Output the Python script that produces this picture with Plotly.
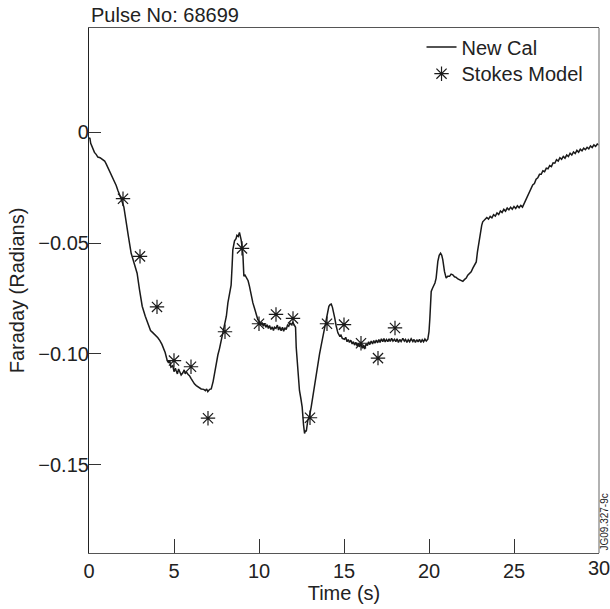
import plotly.graph_objects as go

# Faraday rotation trace, pulse 68699 (new calibration)
time_s = [
    0.00, 0.05, 0.10, 0.20, 0.32, 0.42, 0.52, 0.65, 0.81, 0.92, 1.01, 1.12, 1.21, 1.35, 1.50, 1.60,
    1.70, 1.80, 1.89, 2.05, 2.19, 2.32, 2.48, 2.60, 2.68, 2.83, 2.97, 3.13, 3.31, 3.50, 3.62, 3.75,
    3.90, 4.05, 4.17, 4.29, 4.48, 4.60, 4.68, 4.75, 4.82, 4.93, 5.00, 5.08, 5.13, 5.20, 5.27, 5.35,
    5.42, 5.52, 5.60, 5.66, 5.72, 5.82, 5.91, 6.00, 6.11, 6.20, 6.31, 6.45, 6.60, 6.75, 6.85, 6.92,
    6.99, 7.10, 7.19, 7.30, 7.38, 7.48, 7.58, 7.68, 7.80, 7.97, 8.08, 8.17, 8.27, 8.36, 8.42, 8.46,
    8.56, 8.65, 8.70, 8.78, 8.85, 8.90, 8.95, 9.05, 9.11, 9.18, 9.28, 9.36, 9.44, 9.54, 9.64, 9.74,
    9.83, 9.93, 10.03, 10.10, 10.18, 10.25, 10.32, 10.40, 10.48, 10.55, 10.62, 10.70, 10.78, 10.85,
    10.91, 11.00, 11.08, 11.15, 11.22, 11.30, 11.38, 11.45, 11.52, 11.60, 11.68, 11.75, 11.82, 11.90,
    11.99, 12.08, 12.15, 12.19, 12.30, 12.38, 12.46, 12.54, 12.62, 12.68, 12.73, 12.78, 12.87, 12.97,
    13.07, 13.17, 13.26, 13.40, 13.56, 13.65, 13.75, 13.85, 13.95, 14.03, 14.11, 14.18, 14.25, 14.32,
    14.38, 14.46, 14.54, 14.64, 14.74, 14.82, 14.90, 15.03, 15.10, 15.18, 15.25, 15.32, 15.40, 15.48,
    15.55, 15.62, 15.70, 15.78, 15.85, 15.91, 16.00, 16.08, 16.15, 16.21, 16.30, 16.38, 16.45, 16.52,
    16.60, 16.68, 16.75, 16.82, 16.90, 16.98, 17.05, 17.12, 17.20, 17.28, 17.35, 17.42, 17.50, 17.58,
    17.65, 17.72, 17.80, 17.88, 17.97, 18.05, 18.12, 18.20, 18.28, 18.36, 18.46, 18.55, 18.62, 18.70,
    18.78, 18.86, 18.95, 19.05, 19.12, 19.20, 19.28, 19.36, 19.44, 19.52, 19.60, 19.68, 19.76, 19.84,
    19.93, 20.00, 20.05, 20.13, 20.20, 20.28, 20.35, 20.42, 20.47, 20.52, 20.60, 20.68, 20.75, 20.81,
    20.91, 21.01, 21.10, 21.21, 21.30, 21.40, 21.50, 21.60, 21.70, 21.79, 21.90, 21.99, 22.08, 22.19,
    22.28, 22.38, 22.48, 22.58, 22.68, 22.78, 22.85, 22.91, 22.97, 23.03, 23.10, 23.16, 23.25,
    23.4, 23.5, 23.6, 23.7, 23.8, 23.9, 24.0, 24.1, 24.2, 24.3, 24.4, 24.5, 24.6, 24.7, 24.8, 24.9,
    25.0, 25.1, 25.2, 25.3, 25.4, 25.5, 25.6, 25.7, 25.8, 25.9, 26.0, 26.1, 26.2, 26.3, 26.4, 26.5,
    26.6, 26.7, 26.8, 26.9, 27.0, 27.1, 27.2, 27.3, 27.4, 27.5, 27.6, 27.7, 27.8, 27.9, 28.0, 28.1,
    28.2, 28.3, 28.4, 28.5, 28.6, 28.7, 28.8, 28.9, 29.0, 29.1, 29.2, 29.3, 29.4, 29.5, 29.6, 29.7,
    29.8, 29.9, 30.0,
]
faraday_new_cal = [
    -0.0030, -0.0025, -0.0050, -0.0070, -0.0091, -0.0100, -0.0112, -0.0115, -0.0123, -0.0130, -0.0143,
    -0.0160, -0.0173, -0.0195, -0.0225, -0.0240, -0.0263, -0.0280, -0.0300, -0.0337, -0.0397, -0.0471,
    -0.0546, -0.0575, -0.0590, -0.0636, -0.0710, -0.0785, -0.0830, -0.0874, -0.0895, -0.0904, -0.0915,
    -0.0927, -0.0940, -0.0957, -0.0994, -0.1030, -0.1040, -0.1030, -0.1060, -0.1053, -0.1080, -0.1065,
    -0.1076, -0.1090, -0.1068, -0.1080, -0.1095, -0.1085, -0.1072, -0.1090, -0.1080, -0.1092, -0.1098,
    -0.1110, -0.1128, -0.1135, -0.1143, -0.1150, -0.1158, -0.1160, -0.1166, -0.1158, -0.1170, -0.1160,
    -0.1158, -0.1125, -0.1090, -0.1040, -0.1005, -0.0975, -0.0935, -0.0880, -0.0830, -0.0770, -0.0730,
    -0.0690, -0.0600, -0.0531, -0.0490, -0.0480, -0.0465, -0.0470, -0.0452, -0.0465, -0.0486, -0.0546,
    -0.0650, -0.0645, -0.0660, -0.0670, -0.0695, -0.0735, -0.0770, -0.0795, -0.0815, -0.0845, -0.0855,
    -0.0870, -0.0858, -0.0875, -0.0862, -0.0880, -0.0868, -0.0885, -0.0872, -0.0890, -0.0878, -0.0895,
    -0.0880, -0.0885, -0.0870, -0.0892, -0.0878, -0.0895, -0.0880, -0.0898, -0.0882, -0.0890, -0.0870,
    -0.0875, -0.0860, -0.0868, -0.0858, -0.0870, -0.0880, -0.0971, -0.1100, -0.1165, -0.1200, -0.1240,
    -0.1320, -0.1359, -0.1345, -0.1350, -0.1300, -0.1280, -0.1240, -0.1190, -0.1136, -0.1070, -0.1001,
    -0.0965, -0.0927, -0.0880, -0.0837, -0.0805, -0.0785, -0.0778, -0.0775, -0.0790, -0.0807, -0.0840,
    -0.0874, -0.0905, -0.0919, -0.0915, -0.0930, -0.0934, -0.0925, -0.0945, -0.0935, -0.0948, -0.0938,
    -0.0955, -0.0945, -0.0960, -0.0948, -0.0965, -0.0952, -0.0968, -0.0955, -0.0975, -0.0960, -0.0978,
    -0.0955, -0.0962, -0.0945, -0.0958, -0.0942, -0.0955, -0.0940, -0.0952, -0.0938, -0.0950, -0.0935,
    -0.0948, -0.0932, -0.0945, -0.0930, -0.0946, -0.0935, -0.0945, -0.0932, -0.0944, -0.0930, -0.0942,
    -0.0934, -0.0945, -0.0932, -0.0948, -0.0935, -0.0944, -0.0930, -0.0942, -0.0935, -0.0948, -0.0936,
    -0.0945, -0.0932, -0.0944, -0.0935, -0.0948, -0.0936, -0.0946, -0.0934, -0.0948, -0.0936, -0.0945,
    -0.0933, -0.0942, -0.0934, -0.0900, -0.0840, -0.0718, -0.0705, -0.0695, -0.0680, -0.0658, -0.0610,
    -0.0583, -0.0555, -0.0546, -0.0555, -0.0575, -0.0628, -0.0658, -0.0650, -0.0650, -0.0640, -0.0643,
    -0.0652, -0.0655, -0.0662, -0.0666, -0.0670, -0.0673, -0.0665, -0.0658, -0.0645, -0.0636, -0.0630,
    -0.0613, -0.0600, -0.0585, -0.0540, -0.0509, -0.0475, -0.0449, -0.0420, -0.0404, -0.0395,
    -0.0385, -0.0392, -0.0380, -0.0386, -0.0372, -0.0378, -0.0364, -0.0371, -0.0355, -0.0362, -0.0348,
    -0.0356, -0.0342, -0.0350, -0.0338, -0.0347, -0.0335, -0.0344, -0.0332, -0.0341, -0.0330, -0.0338,
    -0.0322, -0.0306, -0.0290, -0.0268, -0.0258, -0.0238, -0.0232, -0.0212, -0.0206, -0.0190, -0.0190,
    -0.0174, -0.0178, -0.0162, -0.0165, -0.0150, -0.0155, -0.0138, -0.0140, -0.0124, -0.0130, -0.0115,
    -0.0122, -0.0109, -0.0117, -0.0103, -0.0110, -0.0095, -0.0103, -0.0089, -0.0096, -0.0082, -0.0090,
    -0.0077, -0.0084, -0.0072, -0.0079, -0.0068, -0.0075, -0.0062, -0.0069, -0.0057, -0.0064, -0.0053,
    -0.0058,
]

# Stokes model predictions at whole seconds
stokes_time = [2, 3, 4, 5, 6, 7, 8, 9, 10, 11, 12, 13, 14, 15, 16, 17, 18]
stokes_faraday = [-0.0300, -0.0560, -0.0788, -0.1030, -0.1058, -0.1290, -0.0900, -0.0524, -0.0864,
                  -0.0822, -0.0840, -0.1288, -0.0864, -0.0868, -0.0952, -0.1019, -0.0883]

y_ticks = [0, -0.05, -0.10, -0.15]
y_tick_text = ["0", "\u22120.05", "\u22120.10", "\u22120.15"]
x_ticks = [0, 5, 10, 15, 20, 25, 30]
x_max = 30

FONT = "Liberation Sans, Arial, sans-serif"
INK = "#222222"
FS = 20

fig = go.Figure()
fig.add_trace(go.Scatter(
    x=time_s, y=faraday_new_cal, mode="lines", name="New Cal",
    line=dict(color="#1a1a1a", width=1.5), legend="legend",
))
fig.add_trace(go.Scatter(
    x=stokes_time, y=stokes_faraday, mode="markers", name="Stokes Model",
    marker=dict(symbol="asterisk-open", size=12, color="#1a1a1a",
                line=dict(color="#1a1a1a", width=1.2)),
    legend="legend2",
))

legend_style = dict(xanchor="left", yanchor="middle", bgcolor="rgba(0,0,0,0)",
                    borderwidth=0, font=dict(size=FS, color=INK))

fig.update_layout(
    width=610, height=609,
    margin=dict(l=89, r=11, t=28, b=52),
    paper_bgcolor="white", plot_bgcolor="white",
    font=dict(family=FONT, size=FS, color=INK),
    showlegend=True,
    legend=dict(x=0.652, y=0.964, **legend_style),
    legend2=dict(x=0.652, y=0.913, **legend_style),
    xaxis=dict(
        range=[0, x_max], tickvals=x_ticks[:-1], ticks="inside", ticklen=14, tickcolor="#333",
        showline=True, linecolor="#555", linewidth=1.2, mirror=True,
        showgrid=False, zeroline=False,
        title=dict(text="Time (s)", font=dict(size=FS), standoff=2),
        tickfont=dict(size=FS),
    ),
    yaxis=dict(
        range=[-0.1898, 0.047], tickvals=y_ticks, ticktext=y_tick_text,
        ticks="inside", ticklen=12, tickcolor="#333", ticklabelstandoff=-5,
        showline=True, linecolor="#222", linewidth=1.2, mirror=False,
        showgrid=False, zeroline=False,
        title=dict(text="Faraday (Radians)", font=dict(size=FS), standoff=8),
        tickfont=dict(size=FS),
    ),
    shapes=[dict(type="line", xref="paper", yref="paper", x0=1, x1=1, y0=0, y1=1,
                 line=dict(color="#999", width=1.5))],
    annotations=[
        dict(text="Pulse No: 68699", xref="paper", yref="paper", x=0, y=1.0,
             xanchor="left", yanchor="bottom", showarrow=False, yshift=0,
             font=dict(size=FS, color=INK)),
        # last x tick label sits on the page edge, so it is placed as text
        dict(text=str(x_ticks[-1]), xref="x", yref="paper", x=x_max, y=0,
             xanchor="center", yanchor="top", showarrow=False, yshift=-2,
             font=dict(size=FS, color=INK)),
        dict(text="JG09.327-9c", xref="paper", yref="paper", x=1.0, y=0,
             xanchor="center", yanchor="bottom", showarrow=False, textangle=-90,
             xshift=5, font=dict(size=10, color=INK)),
    ],
)

fig.write_html("out.html")
